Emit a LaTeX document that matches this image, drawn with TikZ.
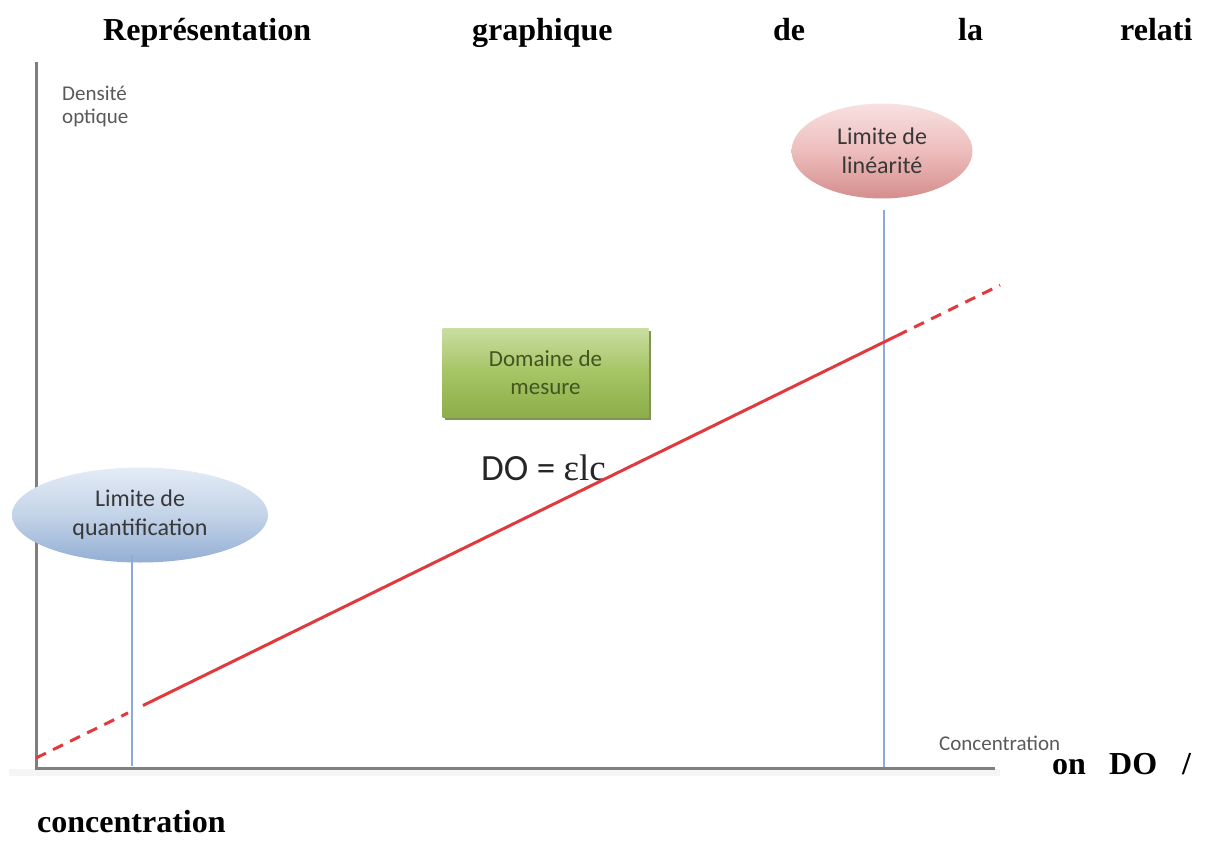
\documentclass[tikz,border=0pt]{standalone}
\usepackage{fontspec}
\setmainfont{Liberation Serif}
\newfontfamily\calib{Carlito}
\usetikzlibrary{shapes.geometric,shadows}
\definecolor{axisgray}{HTML}{7F7F7F}
\definecolor{labgray}{HTML}{595959}
\definecolor{redline}{HTML}{E0393E}
\definecolor{bluevert}{HTML}{8EAADB}
\definecolor{greentxt}{HTML}{41561F}
\definecolor{bluetop}{HTML}{E4ECF6}
\definecolor{bluemid}{HTML}{C3D3E8}
\definecolor{bluebot}{HTML}{93AFD4}
\definecolor{redtop}{HTML}{F8E1E1}
\definecolor{redmid}{HTML}{EDBDBC}
\definecolor{redbot}{HTML}{D48E8D}
\definecolor{greentop}{HTML}{CADDA2}
\definecolor{greenmid}{HTML}{A5C463}
\definecolor{greenbot}{HTML}{8DAE4B}
\definecolor{greenshadow}{HTML}{5E7A2C}
\tikzset{
  titleword/.style={anchor=base west, inner sep=0pt, font=\fontsize{32}{36}\selectfont\bfseries},
  axislab/.style={anchor=base west, inner sep=0pt, text=labgray, font=\calib\fontsize{21}{23}\selectfont, align=left},
  limitell/.style={ellipse, inner sep=0pt, text=black!78, font=\calib\fontsize{24}{29}\selectfont, align=center, draw=none},
  axisline/.style={axisgray, line width=3pt},
  mainline/.style={redline, line width=3pt},
  dashline/.style={redline, line width=3pt, dash pattern=on 11pt off 8pt},
  vline/.style={bluevert, line width=1.5pt},
}
\begin{document}
\begin{tikzpicture}[x=1pt,y=-1pt]
\useasboundingbox (0,0) rectangle (1227,856);
% title words
\node[titleword] (t1) at (103,41) {Représentation};
\node[titleword] (t2) at (472,41) {graphique};
\node[titleword] (t3) at (773,41) {de};
\node[titleword] (t4) at (958,41) {la};
\node[titleword] (t5) at (1120,41) {relati};
\node[titleword] (t6) at (1052,774) {on};
\node[titleword] (t6b) at (1109,774) {DO};
\node[titleword] (t6c) at (1182,774) {/};
\node[titleword] (t7) at (37,832) {concentration};
% axes
\coordinate (ytop) at (36,62);
\coordinate (orig) at (36,768);
\coordinate (xend) at (995,768);
\fill[black!4] (9,769) rectangle (1000,776);
\draw[axisline] (ytop) -- (orig) -- (xend);
\node[axislab] (ylab) at (62,124) {Densité\\optique};
\node[axislab] (xlab) at (939,750) {Concentration};
% ellipses
\node[limitell, minimum width=256pt, minimum height=95pt,
      top color=bluetop, bottom color=bluebot, middle color=bluemid] (lq) at (140,515) {Limite de\\quantification};
\node[limitell, minimum width=181pt, minimum height=95pt,
      top color=redtop, bottom color=redbot, middle color=redmid] (ll) at (882,151) {Limite de\\linéarité};
% green box
\node[draw=none, minimum width=206pt, minimum height=89pt, inner sep=0pt,
      top color=greentop, bottom color=greenbot, middle color=greenmid,
      drop shadow={shadow xshift=2pt, shadow yshift=-3pt, fill=greenshadow, opacity=0.8},
      text=greentxt, font=\calib\fontsize{23}{28}\selectfont, align=center] (dm) at (545.5,372.5) {Domaine de\\mesure};
% formula
\node[anchor=base west, inner sep=0pt, text=black!85] (eq) at (481,480) {\calib\fontsize{37}{37}\selectfont DO = \fontspec{Liberation Serif}\fontsize{37}{37}\selectfont εlc};
% blue vertical lines
\coordinate (b1top) at (132,555);
\coordinate (b1bot) at (132,766);
\coordinate (b2top) at (884,210);
\coordinate (b2bot) at (884,767);
\draw[vline] (b1top) -- (b1bot);
\draw[vline] (b2top) -- (b2bot);
% red line: y = 758 - 0.4905 (x - 36)
\coordinate (r0) at (36,758);
\coordinate (r1) at (128,712.9);
\coordinate (r1b) at (143,705.5);
\coordinate (r2) at (897,335.7);
\coordinate (r3) at (1000,285.2);
\draw[dashline] (r0) -- (r1);
\draw[mainline] (r1b) -- (r2);
\draw[dashline] (r2) -- (r3);
\end{tikzpicture}
\end{document}
